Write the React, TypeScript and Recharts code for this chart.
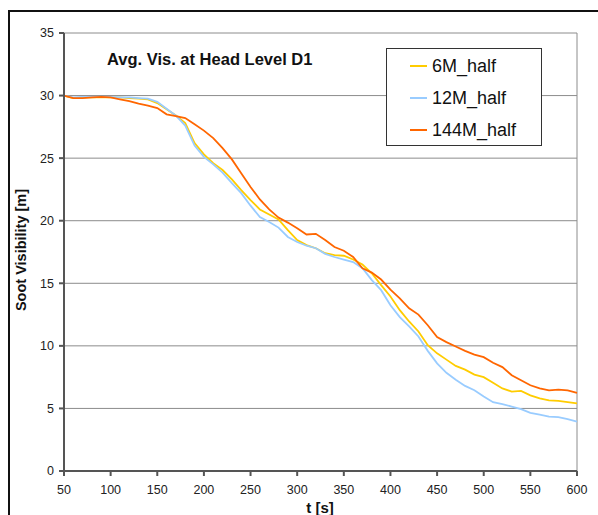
import React from 'react';
import { LineChart, Line, XAxis, YAxis, CartesianGrid, Legend, ReferenceLine } from 'recharts';

const times = [
  50, 60, 70, 80, 90, 100, 110, 120, 130, 140, 150, 160, 170, 180, 190, 200, 210, 220, 230, 240,
  250, 260, 270, 280, 290, 300, 310, 320, 330, 340, 350, 360, 370, 380, 390, 400, 410, 420, 430, 440,
  450, 460, 470, 480, 490, 500, 510, 520, 530, 540, 550, 560, 570, 580, 590, 600,
];

const vis6M = [
  30.0, 29.8, 29.85, 29.85, 29.85, 29.85, 29.85, 29.8, 29.75, 29.7, 29.4, 28.9, 28.4, 27.8, 26.2, 25.3, 24.6, 24.05, 23.3, 22.45,
  21.65, 20.9, 20.5, 20.1, 19.25, 18.45, 18.05, 17.8, 17.4, 17.25, 17.2, 16.9, 16.5, 15.8, 14.85, 13.95, 12.85, 11.95, 11.15, 10.05,
  9.4, 8.9, 8.4, 8.1, 7.7, 7.5, 7.05, 6.6, 6.35, 6.4, 6.05, 5.8, 5.65, 5.6, 5.5, 5.4,
];

const vis12M = [
  30.0, 29.85, 29.9, 29.9, 29.9, 29.9, 29.85, 29.85, 29.8, 29.75, 29.5, 28.95, 28.4, 27.6, 26.0, 25.1, 24.5, 23.85, 23.0, 22.2,
  21.2, 20.3, 19.9, 19.45, 18.7, 18.3, 18.0, 17.8, 17.35, 17.1, 16.9, 16.7, 16.2, 15.25, 14.45, 13.25, 12.3, 11.55, 10.75, 9.6,
  8.6, 7.85, 7.3, 6.8, 6.45, 5.95, 5.5, 5.35, 5.15, 4.95, 4.65, 4.5, 4.35, 4.3, 4.15, 3.95,
];

const vis144M = [
  30.0, 29.8, 29.8, 29.85, 29.9, 29.85, 29.7, 29.55, 29.35, 29.2, 29.0, 28.5, 28.35, 28.2, 27.7, 27.2, 26.6, 25.8, 24.9, 23.8,
  22.7, 21.7, 20.9, 20.25, 19.85, 19.4, 18.9, 18.95, 18.45, 17.9, 17.6, 17.1, 16.2, 15.85, 15.3, 14.5, 13.8, 13.0, 12.5, 11.65,
  10.7, 10.3, 9.95, 9.6, 9.3, 9.1, 8.65, 8.3, 7.65, 7.25, 6.85, 6.6, 6.45, 6.5, 6.45, 6.25,
];

const xTicks = [50, 100, 150, 200, 250, 300, 350, 400, 450, 500, 550, 600];
const yTicks = [0, 5, 10, 15, 20, 25, 30, 35];

const seriesInfo = [
  { key: 'm6', name: '6M_half', color: '#FFCC00' },
  { key: 'm12', name: '12M_half', color: '#99CCFF' },
  { key: 'm144', name: '144M_half', color: '#FF6600' },
];

const data = times.map((t, i) => ({ t, m6: vis6M[i], m12: vis12M[i], m144: vis144M[i] }));

const font = '"Liberation Sans", Arial, sans-serif';

const LegendBox = () => (
  <div style={{
    width: 154,
    height: 95,
    border: '1px solid #333',
    background: '#fff',
    fontFamily: font,
    fontSize: 18,
    color: '#111',
    paddingTop: 1,
    boxSizing: 'content-box',
    textAlign: 'left',
  }}>
    {seriesInfo.map(s => (
      <div key={s.key} style={{ display: 'flex', alignItems: 'center', height: 32 }}>
        <span style={{ display: 'inline-block', width: 17, height: 2, background: s.color, marginLeft: 23, marginRight: 5 }} />
        <span>{s.name}</span>
      </div>
    ))}
  </div>
);

const App: React.FC = () => {
  return (
    <div style={{ position: 'absolute', left: 0, top: 0, width: 598, height: 515, overflow: 'hidden', background: '#fff' }}>
      <div style={{
        position: 'absolute', left: 8, top: 10, width: 800, height: 800,
        borderLeft: '2px solid #111', borderTop: '2px solid #111',
      }} />
      <div style={{ position: 'absolute', left: 0, top: 0 }}>
        <LineChart
          width={598}
          height={515}
          data={data}
          margin={{ top: 33, right: 21, bottom: 14, left: 14 }}
        >
          <CartesianGrid vertical={false} stroke="#8c8c8c" strokeWidth={1} />
          <XAxis
            dataKey="t"
            type="number"
            domain={[50, 600]}
            ticks={xTicks}
            height={30}
            tickSize={5}
            tickMargin={9}
            stroke="#555"
            strokeWidth={2}
            tick={{ fontSize: 12.5, fill: '#222', fontFamily: font }}
          />
          <YAxis
            domain={[0, 35]}
            ticks={yTicks}
            width={50}
            tickSize={5}
            tickMargin={5}
            stroke="#555"
            strokeWidth={2}
            tick={{ fontSize: 12.5, fill: '#222', fontFamily: font }}
          />
          <ReferenceLine x={600} stroke="#8c8c8c" strokeWidth={1} />
          <Legend
            layout="horizontal"
            verticalAlign="middle"
            align="center"
            wrapperStyle={{ position: 'absolute', left: 386, top: 48, width: 156 }}
            content={() => <LegendBox />}
          />
          {seriesInfo.map(s => (
            <Line
              key={s.key}
              type="linear"
              dataKey={s.key}
              name={s.name}
              stroke={s.color}
              strokeWidth={1.8}
              dot={false}
              isAnimationActive={false}
            />
          ))}
        </LineChart>
      </div>
      <div style={{
        position: 'absolute', left: 107, top: 50, fontFamily: font, fontWeight: 'bold',
        fontSize: 16.5, color: '#111', whiteSpace: 'nowrap',
      }}>
        Avg. Vis. at Head Level D1
      </div>
      <div style={{
        position: 'absolute', left: 21, top: 250, fontFamily: font, fontWeight: 'bold',
        fontSize: 14.5, color: '#111', whiteSpace: 'nowrap',
        transform: 'translate(-50%, -50%) rotate(-90deg)',
      }}>
        Soot Visibility [m]
      </div>
      <div style={{
        position: 'absolute', left: 320, top: 507, fontFamily: font, fontWeight: 'bold',
        fontSize: 15, color: '#111', whiteSpace: 'nowrap',
        transform: 'translate(-50%, -50%)',
      }}>
        t [s]
      </div>
    </div>
  );
};

export default App;
